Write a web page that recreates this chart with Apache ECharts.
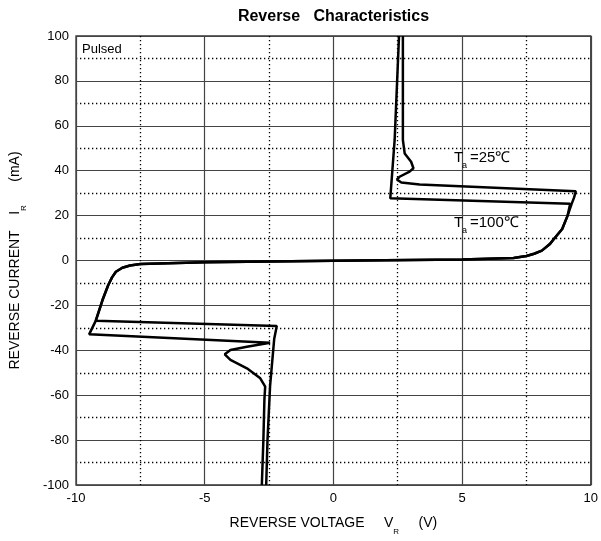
<!DOCTYPE html>
<html>
<head>
<meta charset="utf-8">
<script src="https://cdn.jsdelivr.net/npm/echarts@6/dist/echarts.min.js"></script>
<style>
html,body{margin:0;padding:0;background:#fff;}
#chart{width:601px;height:541px;}
</style>
</head>
<body>
<div id="chart"></div>
<script>
// ---- data ----
// Ta = 25 ℃ curve
const v25 = [-2.78,-2.72,-2.68,-2.65,-2.84,-3.36,-4.0,-4.22,-4.0,-3.36,-2.46,-2.39,-9.49,-9.23,-8.97,-8.75,-8.6,-8.45,-8.2,-7.9,-7.5,-5,0,5,7.0,7.5,7.8,8.1,8.4,8.6,8.89,9.1,9.25,9.35,9.42,3.35,2.64,2.47,2.57,2.96,3.11,3.02,2.77,2.70,2.70];
const i25 = [-100,-80,-62,-56.2,-52.5,-48,-44.3,-41.8,-39.9,-38.4,-36.6,-36.2,-32.9,-26.8,-17.6,-11,-7.5,-5,-3.2,-2.2,-1.6,-0.8,-0.1,0.5,1.1,2.0,3.0,4.4,7.2,10,14,20,25,28,30.8,33.9,34.7,36.1,37.3,39.6,41.1,44,47.7,53.7,100];
// Ta = 100 ℃ curve
const v100 = [-2.61,-2.56,-2.46,-2.3,-2.2,-9.23,-8.97,-8.75,-8.6,-8.45,-8.2,-7.9,-7.5,-5,0,5,7.0,7.5,7.8,8.1,8.4,8.6,8.89,9.1,9.2,2.21,2.38,2.55];
const i100 = [-100,-80,-56,-35,-29.2,-26.8,-17.6,-11,-7.5,-5,-3.2,-2.2,-1.6,-0.8,-0.1,0.5,1.1,2.0,3.0,4.4,7.2,10,14,20,25.3,27.7,53.7,100];
// axes
const xMin = -10, xMax = 10, xStep = 5;
const yMin = -100, yMax = 100, yStep = 20;

const FONT = '"Liberation Sans", Arial, sans-serif';
const pairs = (xs, ys) => xs.map((x, k) => [x, ys[k]]);

const chart = echarts.init(document.getElementById('chart'), null, {renderer: 'canvas'});
const splitStyle = {show: true, lineStyle: {color: '#444', width: 1.2, type: 'solid'}};
const minorStyle = {show: true, lineStyle: {color: '#000', width: 1.3, type: [1.3, 2.7]}};
const nameRich = {
  a: {fontFamily: FONT, fontSize: 14, color: '#000', lineHeight: 26, verticalAlign: 'middle'},
  s: {fontFamily: FONT, fontSize: 8, color: '#000', lineHeight: 26, verticalAlign: 'bottom'}
};

chart.setOption({
  animation: false,
  backgroundColor: '#fff',
  grid: {left: 75, right: 9, top: 36, bottom: 56, show: true, borderColor: '#333', borderWidth: 1.3, containLabel: false},
  xAxis: {
    type: 'value', min: xMin, max: xMax, interval: xStep,
    axisLine: {show: false}, axisTick: {show: false},
    minorTick: {show: false, splitNumber: 2},
    splitLine: splitStyle, minorSplitLine: minorStyle,
    axisLabel: {color: '#000', fontFamily: FONT, fontSize: 13, margin: 7},
    name: '{a|REVERSE VOLTAGE     V}{s|R}{a|     (V)}',
    nameLocation: 'middle', nameGap: 25,
    nameTextStyle: {rich: nameRich}
  },
  yAxis: {
    type: 'value', min: yMin, max: yMax, interval: yStep,
    axisLine: {show: false}, axisTick: {show: false},
    minorTick: {show: false, splitNumber: 2},
    splitLine: splitStyle, minorSplitLine: minorStyle,
    axisLabel: {color: '#000', fontFamily: FONT, fontSize: 13, margin: 7},
    name: '{a|REVERSE CURRENT    I}{s|R}{a|      (mA)}',
    nameLocation: 'middle', nameGap: 48, nameRotate: 90,
    nameTextStyle: {rich: nameRich}
  },
  graphic: [
    {type: 'text', x: 333.5, y: 9, style: {text: 'Reverse   Characteristics', font: 'bold 16px ' + FONT, fill: '#000', textAlign: 'center'}},
    {type: 'text', x: 82, y: 43, style: {text: 'Pulsed', font: '13px ' + FONT, fill: '#000'}, z: 10},
    {type: 'text', x: 454, y: 150, style: {text: 'T', font: '15px ' + FONT, fill: '#000'}, z: 10},
    {type: 'text', x: 462, y: 161, style: {text: 'a', font: '9px ' + FONT, fill: '#000'}, z: 10},
    {type: 'text', x: 470, y: 150, style: {text: '=25℃', font: '15px ' + FONT, fill: '#000'}, z: 10},
    {type: 'text', x: 454, y: 215, style: {text: 'T', font: '15px ' + FONT, fill: '#000'}, z: 10},
    {type: 'text', x: 462, y: 226, style: {text: 'a', font: '9px ' + FONT, fill: '#000'}, z: 10},
    {type: 'text', x: 470, y: 215, style: {text: '=100℃', font: '15px ' + FONT, fill: '#000'}, z: 10}
  ],
  series: [
    {type: 'line', name: 'Ta=25℃', data: pairs(v25, i25), showSymbol: false, smooth: false,
     lineStyle: {color: '#000', width: 2.5}, z: 5},
    {type: 'line', name: 'Ta=100℃', data: pairs(v100, i100), showSymbol: false, smooth: false,
     lineStyle: {color: '#000', width: 2.5}, z: 5}
  ]
});
</script>
</body>
</html>
